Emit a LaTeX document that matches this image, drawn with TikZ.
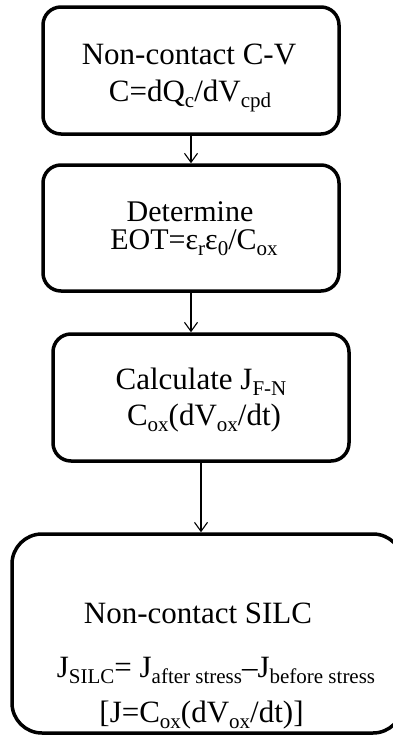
\documentclass[tikz,border=0pt]{standalone}
\usepackage{fontspec}
\setmainfont{Liberation Serif}
\usetikzlibrary{arrows.meta}
\newcommand{\mysb}[1]{\raisebox{-0.22em}{\fontsize{21}{21}\selectfont #1}}
\tikzset{
  box/.style={draw, line width=3.5pt, rounded corners=18pt, minimum width=296pt, inner sep=0pt},
  lbl/.style={anchor=base, inner sep=0pt, font=\fontsize{31}{36}\selectfont},
  lblsmall/.style={lbl, font=\fontsize{30}{34}\selectfont},
  conn/.style={line width=1.1pt, -{Straight Barb[length=9pt,width=13pt]}}
}
\begin{document}
\begin{tikzpicture}[x=1pt,y=-1pt]
\useasboundingbox (0,0) rectangle (392,736);
\node[box, minimum height=127pt] (b1) at (191,70.5) {};
\node[box, minimum height=126pt] (b2) at (191,228) {};
\node[box, minimum height=127pt] (b3) at (201,397.5) {};
\node[box, minimum width=391pt, minimum height=199pt, rounded corners=30pt] (b4) at (207.5,633.5) {};

\node[lbl] (t1a) at (189,64) {Non-contact C-V};
\node[lbl] (t1b) at (190,101) {C=dQ\mysb{c}/dV\mysb{cpd}};
\node[lblsmall] (t2a) at (190,221) {Determine};
\node[lblsmall] (t2b) at (194,249) {EOT=ε\mysb{r}ε\mysb{0}/C\mysb{ox}};
\node[lbl] (t3a) at (201,389) {Calculate J\mysb{F-N}};
\node[lbl] (t3b) at (204,425) {C\mysb{ox}(dV\mysb{ox}/dt)};
\node[lbl] (t4a) at (198,623) {Non-contact SILC};
\node[lbl] (t4b) at (216,677) {J\mysb{SILC}= J\mysb{after stress}–J\mysb{before stress}};
\node[lbl] (t4c) at (201.5,722) {[J=C\mysb{ox}(dV\mysb{ox}/dt)]};

\draw[conn] (b1.south) -- (b2.north);
\draw[conn] (b2.south) -- (b2.south |- b3.north);
\draw[conn] (b3.south) -- (b3.south |- b4.north);
\end{tikzpicture}
\end{document}
